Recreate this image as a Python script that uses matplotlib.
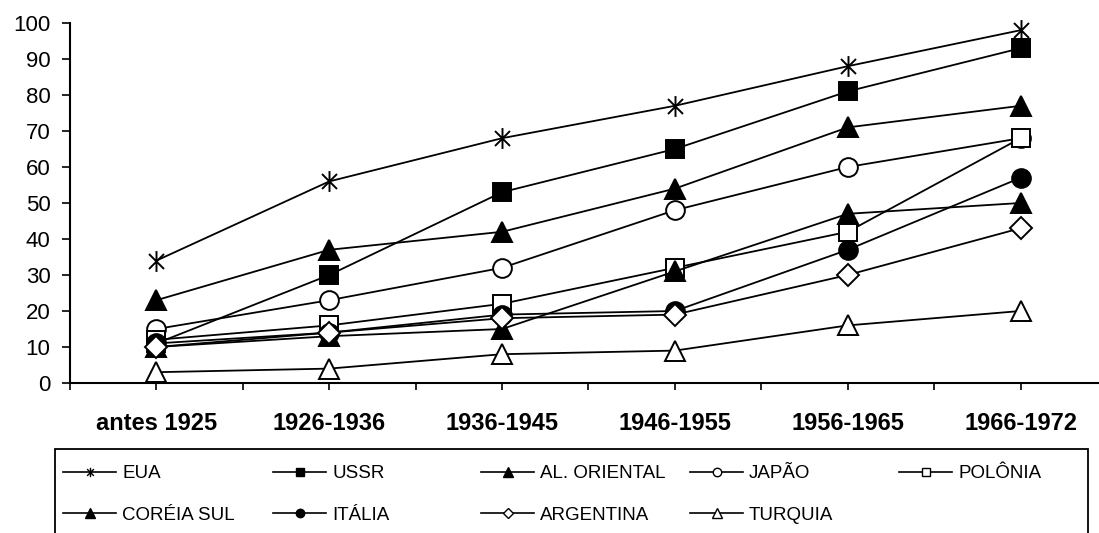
import numpy as np
import matplotlib
matplotlib.use("Agg")
import matplotlib.pyplot as plt
from matplotlib.path import Path
from matplotlib.lines import Line2D
from matplotlib.patches import Rectangle

plt.rcParams['font.family'] = ['Liberation Sans', 'DejaVu Sans']

# dados
periodos = ["antes 1925", "1926-1936", "1936-1945", "1946-1955", "1956-1965", "1966-1972"]
eua = [34, 56, 68, 77, 88, 98]
ussr = [11, 30, 53, 65, 81, 93]
al_oriental = [23, 37, 42, 54, 71, 77]
japao = [15, 23, 32, 48, 60, 68]
polonia = [12, 16, 22, 32, 42, 68]
coreia_sul = [10, 13, 15, 31, 47, 50]
italia = [11, 14, 19, 20, 37, 57]
argentina = [10, 14, 18, 19, 30, 43]
turquia = [3, 4, 8, 9, 16, 20]

# asterisco tipo Excel (vertical + X)
estrela = Path([(0, -1), (0, 1), (-0.72, -0.72), (0.72, 0.72), (-0.72, 0.72), (0.72, -0.72)],
               [Path.MOVETO, Path.LINETO, Path.MOVETO, Path.LINETO, Path.MOVETO, Path.LINETO])

series = [
    ("EUA", eua, estrela, 'none', 15),
    ("USSR", ussr, 's', 'black', 13.5),
    ("AL. ORIENTAL", al_oriental, '^', 'black', 15),
    ("JAPÃO", japao, 'o', 'white', 13.5),
    ("POLÔNIA", polonia, 's', 'white', 13.5),
    ("CORÉIA SUL", coreia_sul, '^', 'black', 15),
    ("ITÁLIA", italia, 'o', 'black', 13.5),
    ("ARGENTINA", argentina, 'D', 'white', 11),
    ("TURQUIA", turquia, '^', 'white', 15),
]

fig = plt.figure(figsize=(10.99, 5.33), dpi=100)
ax = fig.add_axes([70 / 1099, 150 / 533, 1037 / 1099, 360 / 533])

x = np.arange(len(periodos))
handles = {}
for nome, vals, mk, fc, ms in series:
    ax.plot(x, vals, color='black', lw=1.3, marker=mk, markersize=ms,
            markerfacecolor=fc, markeredgecolor='black', markeredgewidth=1.4, clip_on=False)
    handles[nome] = Line2D([], [], color='black', lw=1.2, marker=mk, markersize=ms * 0.45,
                           markerfacecolor=fc, markeredgecolor='black', markeredgewidth=1.0)

ax.set_xlim(-0.5, len(periodos) - 0.5)
ax.set_ylim(0, 100)
ax.set_yticks(np.arange(0, 101, 10))
ax.set_xticks(x)
ax.set_xticks(np.arange(-0.5, len(periodos), 1), minor=True)
ax.set_xticklabels(periodos, fontsize=17, fontweight='bold')
ax.tick_params(axis='y', labelsize=16, length=6, width=1.2, pad=8)
ax.tick_params(axis='x', which='both', length=5, width=1.2, pad=16)
for s in ['top', 'right']:
    ax.spines[s].set_visible(False)
for s in ['left', 'bottom']:
    ax.spines[s].set_linewidth(1.5)

# caixa da legenda
fig.add_artist(Rectangle((55 / 1099, -12 / 533), 1033 / 1099, 96 / 533,
                         transform=fig.transFigure, fill=False, lw=1.3, ec='black', clip_on=False))

colunas = [("EUA", "CORÉIA SUL"), ("USSR", "ITÁLIA"), ("AL. ORIENTAL", "ARGENTINA"),
           ("JAPÃO", "TURQUIA"), ("POLÔNIA",)]
xs_col = [63, 273, 481, 690, 899]
for xc, col in zip(xs_col, colunas):
    leg = fig.legend([handles[n] for n in col], list(col), loc='upper left',
                     bbox_to_anchor=(xc / 1099, (533 - 465) / 533), frameon=False,
                     fontsize=13.5, handlelength=2.83, handletextpad=0.32,
                     borderpad=0, borderaxespad=0, labelspacing=1.32)

fig.savefig("out.png", dpi=100)
